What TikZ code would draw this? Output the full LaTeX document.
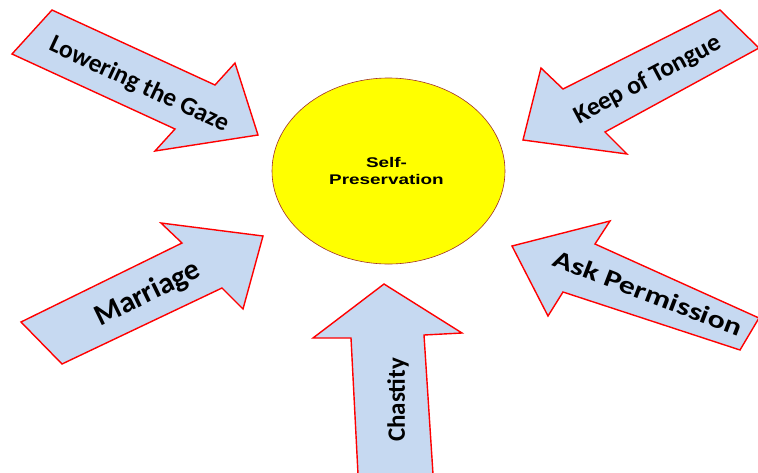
\documentclass[tikz,border=0pt]{standalone}
\usepackage{fontspec}
\setmainfont{Carlito}
\newfontfamily\heavyfont{Liberation Sans}
\definecolor{arrowblue}{HTML}{C6D9F1}
\definecolor{rimred}{HTML}{A0302A}
\definecolor{discyellow}{HTML}{FFFF00}

\begin{document}
\begin{tikzpicture}[x=1pt, y=-1pt,
        blockarrow/.style={draw=red, line width=1.4pt, fill=arrowblue, line join=miter},
        arrowlabel/.style={font=\fontsize{#1}{#1}\selectfont\bfseries, text=black, inner sep=0pt},
        arrowlabel/.default=25]
    \useasboundingbox (0,0) rectangle (758,472);

    % centre
    \draw[fill=discyellow, draw=rimred, line width=0.6pt] (388.5,171) ellipse (116.5 and 93);
    \node[font=\heavyfont\fontsize{14}{17}\selectfont\bfseries, align=center, xscale=1.35, transform shape] (centre) at (386.5,171) {Self-\\Preservation};

    % upper left
    \draw[blockarrow] (52,10) -- (215,85) -- (235,63) -- (258,135) -- (155,151) -- (175,129) -- (12,54) -- cycle;
    \node[arrowlabel=25.5, rotate=-25] (gaze) at (139,85) {Lowering the Gaze};

    % upper right
    \draw[blockarrow] (720,10) -- (759,48) -- (605,132) -- (627,154) -- (523,140) -- (541,68) -- (563,89) -- cycle;
    \node[arrowlabel=25.5, rotate=28] (tongue) at (648,80) {Keep of Tongue};

    % lower left
    \draw[blockarrow] (21,322) -- (62,364) -- (222,288) -- (243,309) -- (263,236) -- (161,223) -- (182,243) -- cycle;
    \node[arrowlabel=30, rotate=26] (marriage) at (148,294) {Marriage};

    % lower right
    \draw[blockarrow] (512,246) -- (610,221) -- (595,244) -- (759,318) -- (740,350) -- (563,292) -- (548,316) -- cycle;
    \node[arrowlabel=25, rotate=-21, xscale=1.28, transform shape] (permission) at (648,293) {Ask Permission};

    % bottom
    \draw[blockarrow] (384,284) -- (462,333) -- (424,335) -- (433,474) -- (358,474) -- (351,338) -- (313,338) -- cycle;
    \node[arrowlabel, rotate=90] (chastity) at (398,400) {Chastity};
\end{tikzpicture}
\end{document}
